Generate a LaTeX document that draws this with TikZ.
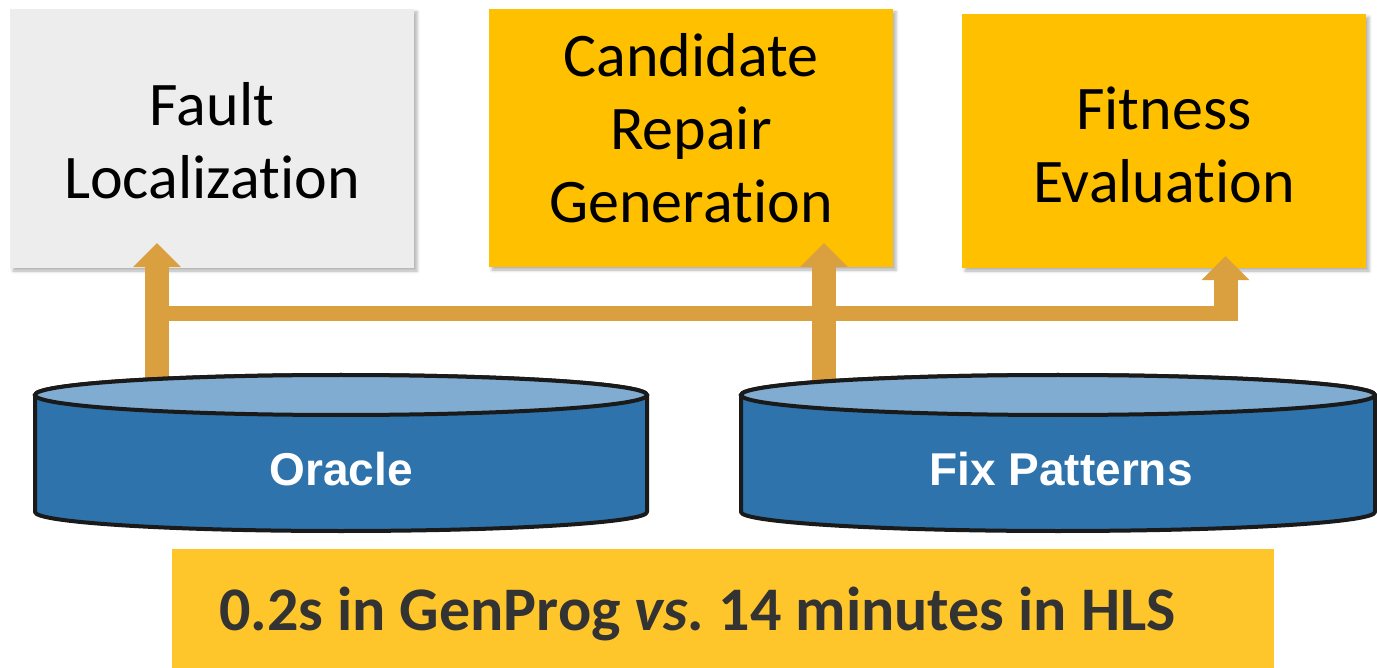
\documentclass[tikz,border=0pt]{standalone}
\usepackage{fontspec}
\setmainfont{Carlito}[Ligatures=NoCommon]
\newfontfamily\dbfont{Liberation Sans}
\usetikzlibrary{arrows.meta,calc,shadows.blur}
\frenchspacing

\definecolor{stagegrey}{HTML}{EDEDED}
\definecolor{stagegold}{HTML}{FFC000}
\definecolor{notegold}{HTML}{FFC62B}
\definecolor{flowc}{HTML}{DAA040}
\definecolor{dbbody}{HTML}{2E73AB}
\definecolor{dbtop}{HTML}{7FACD0}
\definecolor{dbline}{HTML}{1A1A1A}
\definecolor{notetext}{HTML}{333333}

\begin{document}
\begin{tikzpicture}[x=1pt,y=1pt,
  stage/.style={rectangle, inner sep=0pt, minimum width=404pt,
    blur shadow={shadow xshift=3pt, shadow yshift=-3pt,
      shadow blur radius=3pt, shadow opacity=30}},
  stagetext/.style={align=center, inner sep=0pt,
    font=\fontsize{62}{73}\selectfont},
  flow/.style={draw=flowc, line width=24pt,
    -{Triangle[width=48pt,length=24pt,line width=0pt]}},
  bus/.style={draw=flowc, line width=15pt},
  dbside/.style={fill=dbbody, draw=dbline, line width=4pt, line join=round},
  dbcap/.style={fill=dbtop, draw=dbline, line width=4pt},
  dbarea/.style={inner sep=0pt, minimum height=156pt},
  dblabel/.style={inner sep=0pt, text=white,
    font=\dbfont\bfseries\fontsize{46}{50}\selectfont},
  note/.style={rectangle, inner sep=0pt, fill=notegold},
  notelabel/.style={inner sep=0pt, text=notetext,
    font=\bfseries\fontsize{62}{70}\selectfont}
]
\useasboundingbox (0,0) rectangle (1377,-668);

% pipeline stages
\node[stage, fill=stagegrey, minimum height=259pt] (fault) at (212,-138.5) {};
\node[stage, fill=stagegold, minimum height=258pt] (cand) at (691,-138) {};
\node[stage, fill=stagegold, minimum height=254pt] (fit) at (1164,-141) {};
\node[stagetext] (faultT) at (212,-141) {Fault\\Localization};
\node[stagetext] (candT) at (691,-128) {Candidate\\Repair\\Generation};
\node[stagetext] (fitT) at (1164,-145) {Fitness\\Evaluation};

% regions occupied by the two data stores
\node[dbarea, minimum width=612pt] (oracle) at (341,-453) {};
\node[dbarea, minimum width=634pt] (fix) at (1058,-453) {};

% shaft positions of the connectors
\coordinate (oX) at (157,0);
\coordinate (cX) at (824,0);
\coordinate (eX) at (1225.5,0);
\coordinate (busY) at (0,-313.5);

% connectors
\draw[bus] (oX |- busY) -- (eX |- busY);
\draw[flow] ($(oX |- oracle.north)+(0,-5)$) -- ($(oX |- fault.south)+(0,25)$);
\draw[flow] ($(cX |- fix.north)+(0,-5)$) -- ($(cX |- cand.south)+(0,24)$);
\draw[flow] ($(eX |- busY)+(0,-7.5)$) -- ($(eX |- fit.south)+(0,12)$);

% Oracle store
\path[dbside] (35,-395) -- (35,-512)
  arc[start angle=180, end angle=360, x radius=306, y radius=19]
  -- (647,-395)
  arc[start angle=0, end angle=180, x radius=306, y radius=20] -- cycle;
\path[dbcap] (341,-395) ellipse [x radius=306, y radius=20];
\node[dblabel] (oracleL) at (oracle.center |- 0,-469) {Oracle};

% Fix Patterns store
\path[dbside] (741,-395) -- (741,-512)
  arc[start angle=180, end angle=360, x radius=317, y radius=19]
  -- (1375,-395)
  arc[start angle=0, end angle=180, x radius=317, y radius=20] -- cycle;
\path[dbcap] (1058,-395) ellipse [x radius=317, y radius=20];
\node[dblabel] (fixL) at (1061,-469) {Fix Patterns};

% timing note
\node[note, minimum width=1102pt, minimum height=123pt] (timing) at (723,-610.5) {};
\node[notelabel, anchor=base west] (timingT) at (219,-630)
  {0.2s in GenProg {\itshape vs.} 14 minutes in HLS};
\end{tikzpicture}
\end{document}
